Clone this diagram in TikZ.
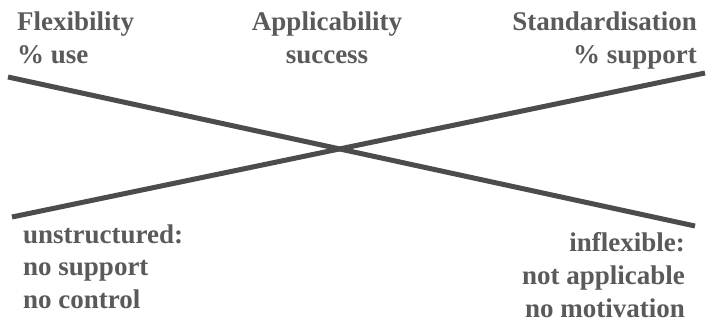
\documentclass[tikz,border=0pt]{standalone}
\usepackage{fontspec}
\setmainfont{Liberation Serif}
\newfontfamily\lblfont{Liberation Serif}
\definecolor{txtgray}{HTML}{5A5A5A}
\definecolor{linegray}{HTML}{4C4C4C}
\begin{document}
\begin{tikzpicture}[x=1pt,y=-1pt,
  lbl/.style={inner sep=0pt,text=txtgray,font=\lblfont\bfseries\fontsize{27}{33}\selectfont},
  bar/.style={draw=linegray,line width=5pt}]
\useasboundingbox[fill=white] (0,0) rectangle (709,322);
\coordinate (a1) at (8,77);
\coordinate (a2) at (695,226);
\coordinate (b1) at (12,217);
\coordinate (b2) at (705,73);
\draw[bar] (a1) -- (a2);
\draw[bar] (b1) -- (b2);
\node[lbl,anchor=base west] (flex1) at (17,30) {Flexibility};
\node[lbl,anchor=base west] (flex2) at (17,63) {\% use};
\node[lbl,anchor=base] (app1) at (327,30) {Applicability};
\node[lbl,anchor=base] (app2) at (327,63) {success};
\node[lbl,anchor=base east] (std1) at (697,30) {Standardisation};
\node[lbl,anchor=base east] (std2) at (697,63) {\% support};
\node[lbl,anchor=base west] (uns1) at (23,243) {unstructured:};
\node[lbl,anchor=base west] (uns2) at (23,275) {no support};
\node[lbl,anchor=base west] (uns3) at (23,308) {no control};
\node[lbl,anchor=base east] (inf1) at (685,251) {inflexible:};
\node[lbl,anchor=base east] (inf2) at (685,284) {not applicable};
\node[lbl,anchor=base east] (inf3) at (685,317) {no motivation};
\end{tikzpicture}
\end{document}
